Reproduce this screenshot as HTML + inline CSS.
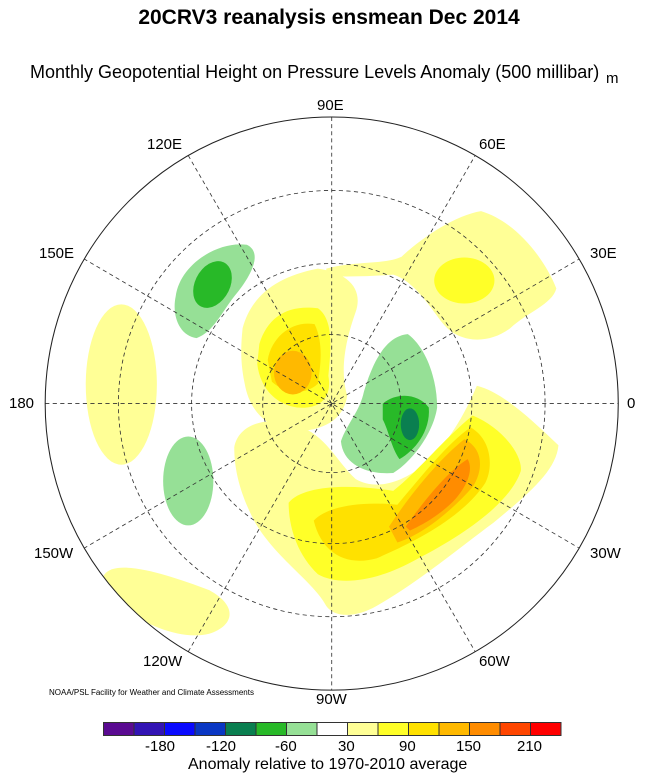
<!DOCTYPE html>
<html><head><meta charset="utf-8"><style>
body{margin:0;background:#fff;width:658px;height:784px;overflow:hidden;font-family:"Liberation Sans",sans-serif;position:relative}
.t{position:absolute;white-space:nowrap}
</style></head><body>
<div class="t" style="left:0;width:658px;text-align:center;top:6px;font-size:21px;font-weight:bold">20CRV3 reanalysis ensmean Dec 2014</div>
<div class="t" style="left:30px;top:62px;font-size:18px">Monthly Geopotential Height on Pressure Levels Anomaly (500 millibar)</div>
<div class="t" style="left:606px;top:70px;font-size:15px">m</div>

<svg style="position:absolute;left:0;top:90px" width="658" height="620" viewBox="0 0 1573 1562" preserveAspectRatio="none">
<defs><clipPath id="c"><ellipse cx="793" cy="790" rx="685" ry="722"/></clipPath></defs>
<g clip-path="url(#c)">
<ellipse cx="290" cy="742" rx="85" ry="202" fill="#ffff96"/>
<ellipse cx="450" cy="985" rx="60" ry="112" fill="#96e096"/>
<path d="M420,520 C430,440 520,380 590,390 C630,410 600,470 560,520 C530,560 510,610 470,625 C430,620 410,570 420,520Z" fill="#96e096"/>
<ellipse cx="508" cy="490" rx="42" ry="62" fill="#28b928" transform="rotate(25 508 490)"/>
<path d="M250,1220 C280,1180 400,1220 500,1260 C570,1300 560,1350 500,1370 C420,1390 320,1330 270,1290 C240,1260 240,1235 250,1220Z" fill="#ffff96"/>
<path d="M780,450 C850,430 920,440 960,420 C1010,370 1090,315 1150,305 C1230,330 1300,420 1330,500 C1320,540 1260,560 1220,600 C1170,640 1100,640 1060,590 C1030,550 990,480 940,465 C880,470 830,470 780,470Z" fill="#ffff96"/>
<ellipse cx="1110" cy="480" rx="72" ry="58" fill="#ffff28"/>
<path d="M580,600 C600,520 660,470 760,450 C830,460 870,500 850,560 C830,620 810,700 830,770 C820,840 760,860 700,860 C630,850 595,800 585,740 C575,690 575,650 580,600Z" fill="#ffff96"/>
<path d="M620,640 C640,570 690,540 760,550 C800,580 790,660 785,720 C795,780 760,805 710,800 C650,790 620,740 615,690Z" fill="#ffff28"/>
<path d="M640,680 C650,620 700,580 752,590 C775,640 765,700 760,740 C730,770 680,765 650,735Z" fill="#ffe100"/>
<ellipse cx="700" cy="712" rx="45" ry="55" fill="#ffb900"/>
<path d="M560,900 C570,840 640,820 710,845 C780,870 800,930 850,980 C900,1010 960,990 1020,940 C1070,890 1110,820 1140,745 C1200,760 1270,830 1335,895 C1330,960 1260,1020 1180,1090 C1090,1160 1000,1240 900,1300 C850,1330 800,1330 780,1300 C750,1240 660,1180 610,1090 C575,1020 560,960 560,900Z" fill="#ffff96"/>
<path d="M690,1040 C720,1000 820,990 940,1010 C1000,960 1060,880 1130,820 C1200,850 1250,920 1245,960 C1220,1040 1110,1120 1000,1180 C900,1240 810,1250 760,1220 C710,1170 690,1100 690,1040Z" fill="#ffff28"/>
<path d="M750,1085 C780,1050 860,1035 950,1045 C1010,970 1070,890 1125,850 C1175,880 1180,950 1160,990 C1110,1070 1010,1130 900,1180 C830,1200 770,1170 750,1085Z" fill="#ffe100"/>
<path d="M930,1100 C980,1020 1050,930 1110,880 C1150,900 1160,950 1130,1000 C1080,1060 1010,1120 950,1140Z" fill="#ffb900"/>
<path d="M970,1100 C1010,1040 1070,960 1118,930 C1135,960 1110,1010 1080,1040 C1040,1080 1000,1100 980,1110Z" fill="#ff8c00"/>
<path d="M870,760 C890,690 920,620 975,615 C1020,650 1045,730 1045,800 C1035,870 980,940 940,965 C880,970 820,945 815,885 C830,840 860,810 870,760Z" fill="#96e096"/>
<path d="M915,790 C950,760 1000,765 1025,800 C1030,860 990,910 955,930 C935,900 930,860 915,830Z" fill="#28b928"/>
<ellipse cx="980" cy="842" rx="22" ry="40" fill="#0a7f50"/>
<g fill="none" stroke="#333" stroke-width="2" stroke-dasharray="10,8">
<ellipse cx="793" cy="790" rx="510" ry="537"/>
<ellipse cx="793" cy="790" rx="335" ry="353"/>
<ellipse cx="793" cy="790" rx="165" ry="174"/>
<line x1="108" y1="790" x2="1478" y2="790"/>
<line x1="793" y1="68" x2="793" y2="1512"/>
<line x1="200" y1="425" x2="1386" y2="1155"/>
<line x1="200" y1="1155" x2="1386" y2="425"/>
<line x1="450" y1="165" x2="1136" y2="1415"/>
<line x1="450" y1="1415" x2="1136" y2="165"/>
</g>
</g>
<ellipse cx="793" cy="790" rx="685" ry="722" fill="none" stroke="#222" stroke-width="2.5"/>
</svg>

<div class="t" style="left:317px;top:97px;font-size:15px">90E</div>
<div class="t" style="left:147px;top:136px;font-size:15px">120E</div>
<div class="t" style="left:479px;top:136px;font-size:15px">60E</div>
<div class="t" style="left:39px;top:245px;font-size:15px">150E</div>
<div class="t" style="left:590px;top:245px;font-size:15px">30E</div>
<div class="t" style="left:9px;top:395px;font-size:15px">180</div>
<div class="t" style="left:627px;top:395px;font-size:15px">0</div>
<div class="t" style="left:34px;top:545px;font-size:15px">150W</div>
<div class="t" style="left:590px;top:545px;font-size:15px">30W</div>
<div class="t" style="left:143px;top:653px;font-size:15px">120W</div>
<div class="t" style="left:479px;top:653px;font-size:15px">60W</div>
<div class="t" style="left:316px;top:691px;font-size:15px">90W</div>
<div class="t" style="left:49px;top:688px;font-size:8px">NOAA/PSL Facility for Weather and Climate Assessments</div>

<svg style="position:absolute;left:103px;top:722px" width="460" height="14">
<g stroke="#333" stroke-width="1">
<rect x="0.5" y="0.5" width="30.5" height="13" fill="#5a0a91"/>
<rect x="31" y="0.5" width="30.5" height="13" fill="#3214b4"/>
<rect x="61.5" y="0.5" width="30.5" height="13" fill="#0a0aff"/>
<rect x="92" y="0.5" width="30.5" height="13" fill="#0a37c3"/>
<rect x="122.5" y="0.5" width="30.5" height="13" fill="#0a7f50"/>
<rect x="153" y="0.5" width="30.5" height="13" fill="#28b928"/>
<rect x="183.5" y="0.5" width="30.5" height="13" fill="#96e096"/>
<rect x="214" y="0.5" width="30.5" height="13" fill="#ffffff"/>
<rect x="244.5" y="0.5" width="30.5" height="13" fill="#ffff96"/>
<rect x="275" y="0.5" width="30.5" height="13" fill="#ffff28"/>
<rect x="305.5" y="0.5" width="30.5" height="13" fill="#ffe100"/>
<rect x="336" y="0.5" width="30.5" height="13" fill="#ffb900"/>
<rect x="366.5" y="0.5" width="30.5" height="13" fill="#ff8c00"/>
<rect x="397" y="0.5" width="30.5" height="13" fill="#ff4600"/>
<rect x="427.5" y="0.5" width="30.5" height="13" fill="#ff0000"/>
</g></svg>
<div class="t" style="left:145px;top:738px;font-size:15px">-180</div>
<div class="t" style="left:206px;top:738px;font-size:15px">-120</div>
<div class="t" style="left:275px;top:738px;font-size:15px">-60</div>
<div class="t" style="left:338px;top:738px;font-size:15px">30</div>
<div class="t" style="left:399px;top:738px;font-size:15px">90</div>
<div class="t" style="left:456px;top:738px;font-size:15px">150</div>
<div class="t" style="left:517px;top:738px;font-size:15px">210</div>
<div class="t" style="left:188px;top:756px;font-size:16px">Anomaly relative to 1970-2010 average</div>
</body></html>
